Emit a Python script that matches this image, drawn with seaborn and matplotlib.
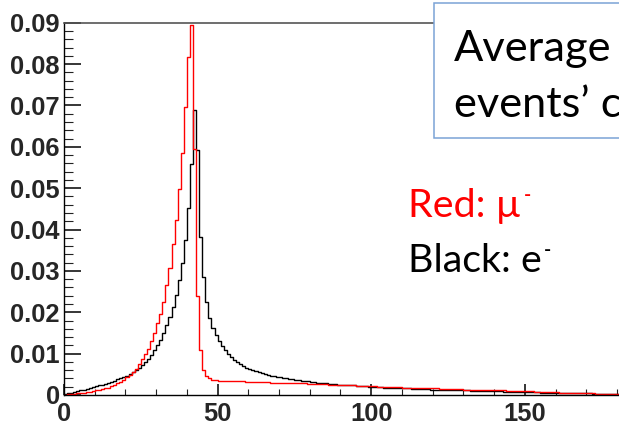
import numpy as np
import pandas as pd
import matplotlib
matplotlib.use("Agg")
import matplotlib.pyplot as plt
from matplotlib.patches import Rectangle
from matplotlib.ticker import MultipleLocator, FixedLocator, FixedFormatter
import seaborn as sns

# Histogram binning: unit-width bins starting at 0
bin_edges = list(range(0, 183))

# Normalised per-bin content, electrons (black)
electron_counts = [
    0.0002, 0.0004, 0.0006, 0.0008, 0.0009, 0.0011, 0.0013, 0.0015, 0.0017, 0.0019,
    0.0021, 0.0023, 0.0025, 0.0027, 0.0029, 0.0032, 0.0035, 0.0038, 0.0041, 0.0044,
    0.0047, 0.0051, 0.0055, 0.0060, 0.0066, 0.0072, 0.0080, 0.0088, 0.0097, 0.0108,
    0.0121, 0.0134, 0.0151, 0.0169, 0.0189, 0.0213, 0.0242, 0.0279, 0.0320, 0.0374,
    0.0451, 0.0558, 0.0689, 0.0593, 0.0382, 0.0285, 0.0224, 0.0185, 0.0161, 0.0145,
    0.0131, 0.0118, 0.0109, 0.0099, 0.0091, 0.0085, 0.0079, 0.0074, 0.0070, 0.0066,
    0.0063, 0.0060, 0.0057, 0.0055, 0.0053, 0.0051, 0.0049, 0.0047, 0.0045, 0.0044,
    0.0043, 0.0041, 0.0040, 0.0039, 0.0038, 0.0037, 0.0036, 0.0035, 0.0034, 0.0033,
    0.0032, 0.0031, 0.0030, 0.0030, 0.0029, 0.0028, 0.0027, 0.0027, 0.0026, 0.0025,
    0.0025, 0.0024, 0.0024, 0.0023, 0.0023, 0.0022, 0.0022, 0.0021, 0.0021, 0.0020,
    0.0020, 0.0019, 0.0019, 0.0019, 0.0018, 0.0018, 0.0018, 0.0017, 0.0017, 0.0017,
    0.0016, 0.0016, 0.0016, 0.0015, 0.0015, 0.0015, 0.0014, 0.0014, 0.0014, 0.0013,
    0.0013, 0.0013, 0.0013, 0.0012, 0.0012, 0.0012, 0.0012, 0.0011, 0.0011, 0.0011,
    0.0011, 0.0011, 0.0010, 0.0010, 0.0010, 0.0010, 0.0010, 0.0009, 0.0009, 0.0009,
    0.0009, 0.0009, 0.0009, 0.0008, 0.0008, 0.0008, 0.0008, 0.0008, 0.0008, 0.0007,
    0.0007, 0.0007, 0.0007, 0.0007, 0.0007, 0.0006, 0.0006, 0.0006, 0.0006, 0.0006,
    0.0006, 0.0005, 0.0005, 0.0005, 0.0005, 0.0005, 0.0004, 0.0004, 0.0004, 0.0004,
    0.0004, 0.0004, 0.0003, 0.0003, 0.0003, 0.0003, 0.0003, 0.0002, 0.0002, 0.0002,
    0.0002, 0.0002,
]

# Normalised per-bin content, muons (red)
muon_counts = [
    0.0001, 0.0002, 0.0002, 0.0003, 0.0004, 0.0005, 0.0006, 0.0007, 0.0008, 0.0009,
    0.0011, 0.0012, 0.0014, 0.0016, 0.0018, 0.0021, 0.0024, 0.0028, 0.0032, 0.0037,
    0.0043, 0.0049, 0.0056, 0.0064, 0.0074, 0.0086, 0.0098, 0.0112, 0.0131, 0.0151,
    0.0173, 0.0197, 0.0225, 0.0266, 0.0308, 0.0364, 0.0423, 0.0499, 0.0585, 0.0696,
    0.0818, 0.0894, 0.0594, 0.0240, 0.0109, 0.0060, 0.0046, 0.0040, 0.0037, 0.0036,
    0.0035, 0.0035, 0.0034, 0.0034, 0.0034, 0.0033, 0.0033, 0.0033, 0.0033, 0.0032,
    0.0032, 0.0032, 0.0032, 0.0031, 0.0031, 0.0031, 0.0031, 0.0030, 0.0030, 0.0030,
    0.0030, 0.0029, 0.0029, 0.0029, 0.0029, 0.0028, 0.0028, 0.0028, 0.0028, 0.0027,
    0.0027, 0.0027, 0.0027, 0.0026, 0.0026, 0.0026, 0.0025, 0.0025, 0.0025, 0.0024,
    0.0024, 0.0024, 0.0023, 0.0023, 0.0023, 0.0022, 0.0022, 0.0022, 0.0021, 0.0021,
    0.0021, 0.0021, 0.0020, 0.0020, 0.0020, 0.0020, 0.0019, 0.0019, 0.0019, 0.0019,
    0.0018, 0.0018, 0.0018, 0.0018, 0.0017, 0.0017, 0.0017, 0.0017, 0.0016, 0.0016,
    0.0016, 0.0016, 0.0015, 0.0015, 0.0015, 0.0015, 0.0014, 0.0014, 0.0014, 0.0014,
    0.0013, 0.0013, 0.0013, 0.0013, 0.0013, 0.0012, 0.0012, 0.0012, 0.0012, 0.0011,
    0.0011, 0.0011, 0.0011, 0.0011, 0.0010, 0.0010, 0.0010, 0.0010, 0.0010, 0.0009,
    0.0009, 0.0009, 0.0009, 0.0008, 0.0008, 0.0008, 0.0008, 0.0007, 0.0007, 0.0007,
    0.0007, 0.0006, 0.0006, 0.0006, 0.0006, 0.0005, 0.0005, 0.0005, 0.0005, 0.0004,
    0.0004, 0.0004, 0.0004, 0.0003, 0.0003, 0.0003, 0.0003, 0.0003, 0.0002, 0.0002,
    0.0002, 0.0002,
]

x_ticks = [0, 50, 100, 150]
x_tick_labels = ["0", "50", "100", "150"]
y_ticks = [0.0, 0.01, 0.02, 0.03, 0.04, 0.05, 0.06, 0.07, 0.08, 0.09]
y_tick_labels = ["0", "0.01", "0.02", "0.03", "0.04", "0.05", "0.06", "0.07", "0.08", "0.09"]

title_lines = ["Average", "events\u2019 c"]
legend_red = "Red: \u00b5"
legend_black = "Black: e"

sns.set_style("white")

W, H = 619, 422
fig = plt.figure(figsize=(W / 100, H / 100), dpi=100)

# Frame in pixel units: left edge 64, bottom at 395 and top at 22.7 from the top; x spans 0..200
px_per_unit = 3.072
ax_left, ax_top, ax_bot = 64, 22.7, 395.0
ax = fig.add_axes([ax_left / W, (H - ax_bot) / H,
                   200 * px_per_unit / W, (ax_bot - ax_top) / H])

centers = np.array(bin_edges[:-1]) + 0.5
df = pd.DataFrame({"x": centers, "electron": electron_counts, "muon": muon_counts})

sns.histplot(data=df, x="x", weights="electron", bins=bin_edges, element="step",
             fill=False, color="black", linewidth=1.0, ax=ax)
sns.histplot(data=df, x="x", weights="muon", bins=bin_edges, element="step",
             fill=False, color="#ff0000", linewidth=1.0, ax=ax)

ax.set_xlim(0, 200)
ax.set_ylim(0, 0.09)
ax.set_xlabel("")
ax.set_ylabel("")

ax.xaxis.set_major_locator(FixedLocator(x_ticks))
ax.xaxis.set_major_formatter(FixedFormatter(x_tick_labels))
ax.xaxis.set_minor_locator(MultipleLocator(10))
ax.yaxis.set_major_locator(FixedLocator(y_ticks))
ax.yaxis.set_major_formatter(FixedFormatter(y_tick_labels))
ax.yaxis.set_minor_locator(MultipleLocator(0.002))

ax.tick_params(axis="y", which="major", direction="in", length=12.2, width=1.1,
               pad=2.9, labelsize=18.4, color="black", left=True)
ax.tick_params(axis="y", which="minor", direction="in", length=6.3, width=0.8,
               color="#222222", left=True)
ax.tick_params(axis="x", which="major", direction="in", length=7.9, width=1.1,
               pad=5.0, labelsize=18.4, color="black", bottom=True)
ax.tick_params(axis="x", which="minor", direction="in", length=4.1, width=0.8,
               color="#222222", bottom=True)

for lab in ax.get_xticklabels() + ax.get_yticklabels():
    lab.set_fontfamily("Liberation Sans")
    lab.set_fontweight("bold")

for side in ["left", "bottom"]:
    ax.spines[side].set_color("black")
    ax.spines[side].set_linewidth(1.0)
ax.spines["top"].set_color("#555555")
ax.spines["top"].set_linewidth(1.2)
ax.spines["right"].set_visible(False)

# Text box in the upper right, running past the figure edge
box_l, box_t, box_b = 434.3, 2.7, 138.0
fig.patches.append(Rectangle((box_l / W, (H - box_b) / H), 300 / W, (box_b - box_t) / H,
                             transform=fig.transFigure, facecolor="white",
                             edgecolor="#7ba3d6", linewidth=1.1, zorder=5))

text_font = ["Lato", "DejaVu Sans"]
fig.text(454.3 / W, (H - 60.7) / H, title_lines[0], fontsize=31.2, family=text_font,
         color="black", ha="left", va="baseline", zorder=6)
fig.text(454.3 / W, (H - 116.7) / H, title_lines[1], fontsize=31.2, family=text_font,
         color="black", ha="left", va="baseline", zorder=6)

t_red = fig.text(408.3 / W, (H - 216.7) / H, legend_red, fontsize=28.4, family=text_font,
                 color="#ff0000", ha="left", va="baseline")
t_black = fig.text(408.3 / W, (H - 271.7) / H, legend_black, fontsize=28.4, family=text_font,
                   color="black", ha="left", va="baseline")

# Superscript minus signs placed just after the particle symbols
fig.canvas.draw()
renderer = fig.canvas.get_renderer()
for t, c in [(t_red, "#ff0000"), (t_black, "black")]:
    bb = t.get_window_extent(renderer)
    fig.text((bb.x1 + 2) / W, (bb.y1 + 1) / H, "-", fontsize=14, family=text_font,
             color=c, fontweight="bold", ha="left", va="top")

fig.savefig("out.png", dpi=100)
